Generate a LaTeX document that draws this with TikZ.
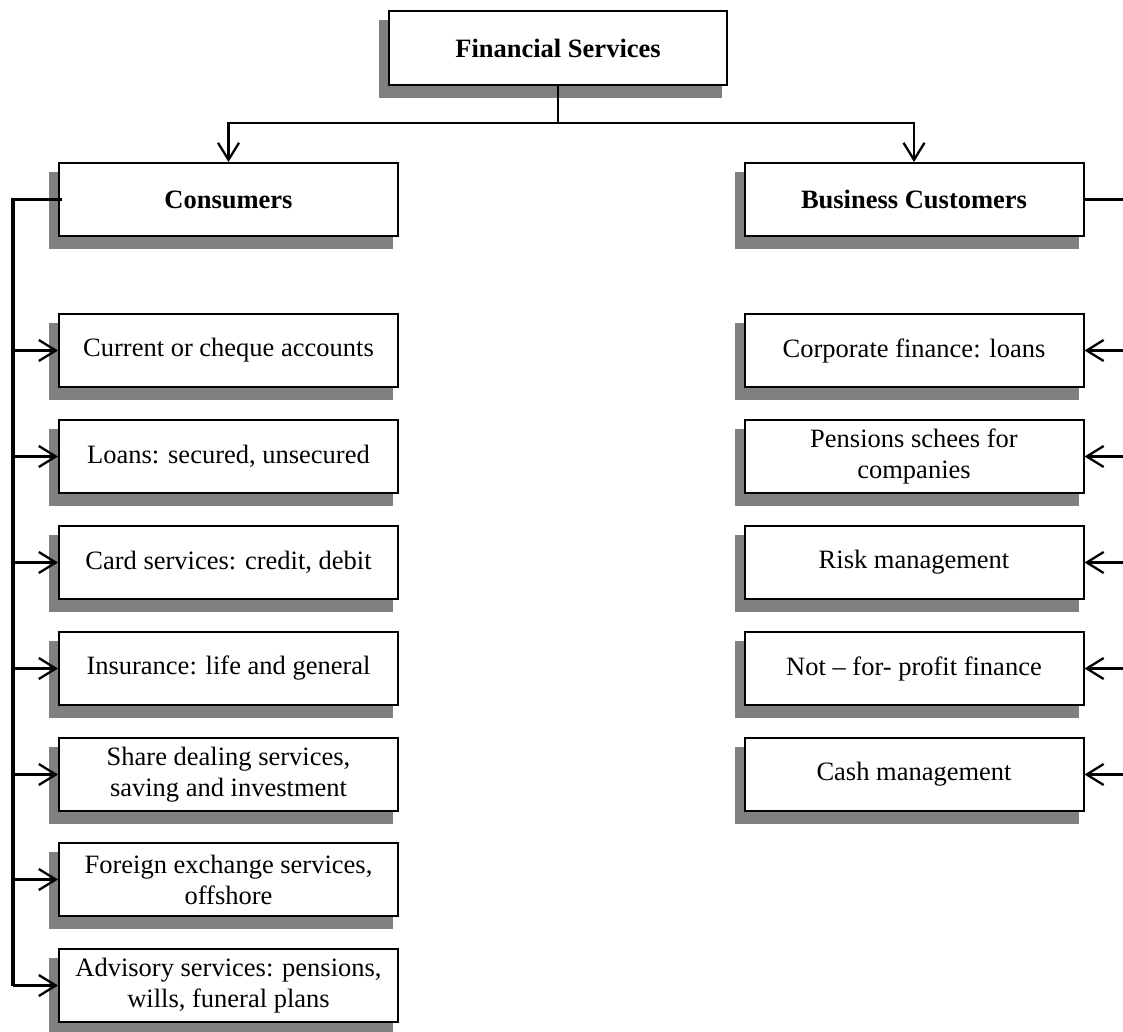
\documentclass[tikz,border=0pt]{standalone}
\usepackage{fontspec}
\setmainfont{Liberation Serif}
\usetikzlibrary{arrows.meta,backgrounds,calc}

\tikzset{
  box/.style={draw, line width=2pt, fill=white, inner sep=0pt,
    minimum width=339pt, minimum height=73pt, align=center,
    font=\fontsize{26.5}{31}\selectfont},
  headbox/.style={box, font=\fontsize{26.5}{31}\selectfont\bfseries},
  link/.style={line width=2.3pt},
  spine/.style={line width=3.5pt},
  arr/.style={line width=2.3pt, -{Straight Barb[length=17pt,width=21pt,line width=2.3pt]}},
  shade/.style={fill=black!50}
}

% grey offset shadow behind a node
\newcommand{\boxshadow}[1]{%
  \fill[shade] ($(#1.south west)+(-9,12)$) rectangle ($(#1.north east)+(-6,10)$);}

\begin{document}
\begin{tikzpicture}[x=1pt, y=-1pt]
\useasboundingbox (0,0) rectangle (1123,1032);

% top level
\node[headbox, minimum width=338pt, minimum height=74pt] (fs) at (558,48) {Financial Services};
\node[headbox] (cons) at (228.5,199.5) {Consumers};
\node[headbox] (bus) at (914,199.5) {Business Customers};

% consumer services
\node[box] (c1) at (228.5,350.5) {Current or cheque accounts};
\node[box] (c2) at (228.5,456.5) {Loans: secured, unsecured};
\node[box] (c3) at (228.5,562.5) {Card services: credit, debit};
\node[box] (c4) at (228.5,668.5) {Insurance: life and general};
\node[box] (c5) at (228.5,774.5) {Share dealing services,\\saving and investment};
\node[box] (c6) at (228.5,879.5) {Foreign exchange services,\\offshore};
\node[box] (c7) at (228.5,985.5) {Advisory services: pensions,\\wills, funeral plans};

% business services
\node[box] (b1) at (914,350.5) {Corporate finance: loans};
\node[box] (b2) at (914,456.5) {Pensions schees for\\companies};
\node[box] (b3) at (914,562.5) {Risk management};
\node[box] (b4) at (914,668.5) {Not -- for- profit finance};
\node[box] (b5) at (914,774.5) {Cash management};

\begin{scope}[on background layer]
  \foreach \n in {fs,cons,bus,c1,c2,c3,c4,c5,c6,c7,b1,b2,b3,b4,b5}{\boxshadow{\n}}
\end{scope}

% branches from the top box
\coordinate (fsj) at (558,123);
\draw[link] (fs.south) -- (fsj);
\draw[arr] (fsj) -| (cons.north);
\draw[arr] (fsj) -| (bus.north);

% consumer spine
\coordinate (ls) at (13,199.5);
\coordinate (lb) at (13,985.5);
\draw[spine] ($(cons.west)+(4,0)$) -- (ls) -- (lb);
\foreach \n in {c1,c2,c3,c4,c5,c6,c7}{\draw[arr] (\n.west -| ls) -- (\n.west);}

% business spine
\coordinate (rs) at (1123,199.5);
\draw[spine] (bus.east) -- (rs);
\foreach \n in {b1,b2,b3,b4,b5}{\draw[arr] (\n.east -| rs) -- (\n.east);}

\end{tikzpicture}
\end{document}
